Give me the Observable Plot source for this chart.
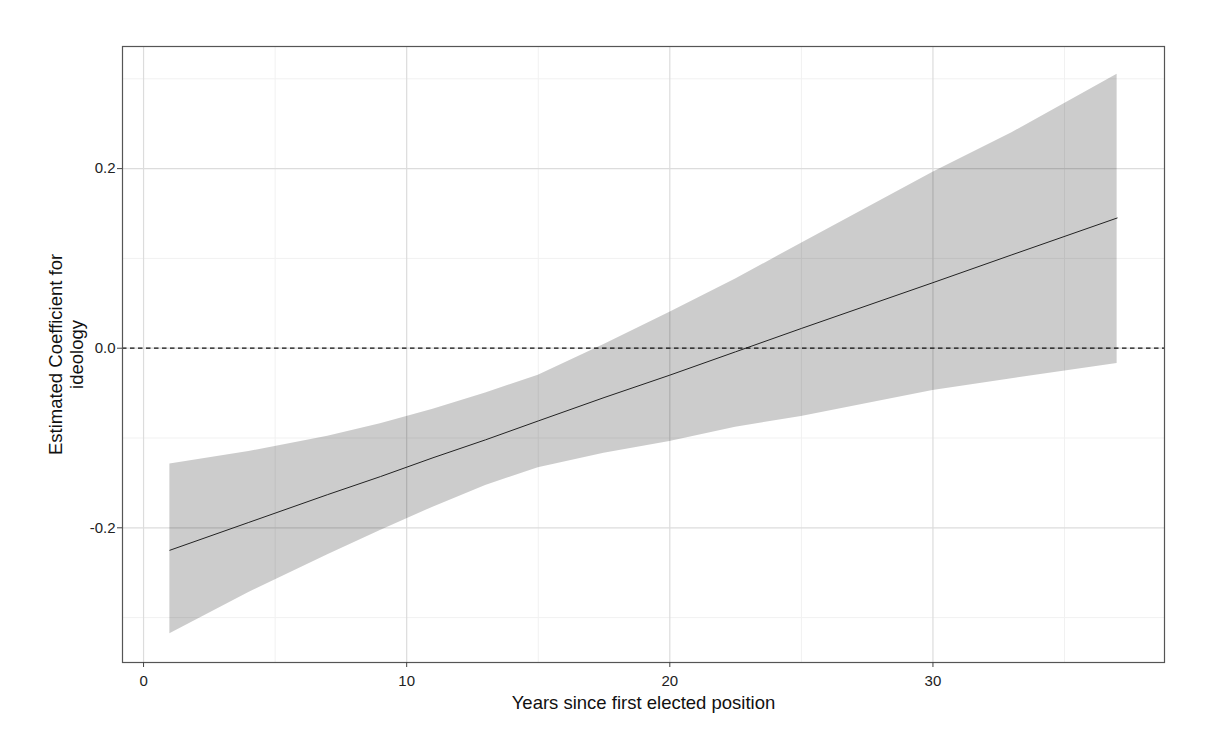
<!DOCTYPE html>
<html>
<head>
<meta charset="utf-8">
<script src="https://cdn.jsdelivr.net/npm/d3@7"></script>
<script src="https://cdn.jsdelivr.net/npm/@observablehq/plot@0.6"></script>
<style>
  html, body { margin: 0; padding: 0; background: #fff; }
  svg text.ticklab { font-size: 15px !important; }
</style>
</head>
<body>
<div id="chart"></div>
<script>
// Years since first elected position
const years = [1, 4, 7, 9, 11, 13, 15, 17.5, 20, 22.5, 25, 30, 33, 37];
// Estimated coefficient for ideology
const estimate = [-0.225, -0.194, -0.163, -0.143, -0.122, -0.102, -0.081, -0.055, -0.030, -0.004, 0.022, 0.073, 0.104, 0.145];
// Confidence band
const upper = [-0.129, -0.115, -0.098, -0.084, -0.068, -0.050, -0.030, 0.004, 0.040, 0.077, 0.117, 0.196, 0.240, 0.305];
const lower = [-0.318, -0.272, -0.230, -0.203, -0.177, -0.153, -0.133, -0.117, -0.104, -0.088, -0.076, -0.047, -0.034, -0.017];

const xTicks = [0, 10, 20, 30];
const xMinor = [5, 15, 25, 35];
const yTicks = [-0.2, 0.0, 0.2];
const yMinor = [-0.3, -0.1, 0.1, 0.3];

const xLabel = "Years since first elected position";
const yLabel = "Estimated Coefficient for\nideology";

const data = years.map((x, i) => ({x, est: estimate[i], lo: lower[i], hi: upper[i]}));

const chart = Plot.plot({
  width: 1214,
  height: 756,
  marginLeft: 122,
  marginRight: 50,
  marginTop: 46,
  marginBottom: 94,
  style: {fontFamily: "'Liberation Sans', Arial, sans-serif", fontSize: "15px", color: "#333", background: "#fff"},
  x: {domain: [-0.8, 38.8]},
  y: {domain: [-0.350, 0.336]},
  marks: [
    Plot.ruleX(xMinor, {stroke: "#f1f1f1", strokeWidth: 1}),
    Plot.ruleY(yMinor, {stroke: "#f1f1f1", strokeWidth: 1}),
    Plot.ruleX(xTicks, {stroke: "#dcdcdc", strokeWidth: 1.2}),
    Plot.ruleY(yTicks, {stroke: "#dcdcdc", strokeWidth: 1.2}),
    Plot.areaY(data, {x: "x", y1: "lo", y2: "hi", fill: "black", fillOpacity: 0.2}),
    Plot.line(data, {x: "x", y: "est", stroke: "#222", strokeWidth: 1}),
    Plot.ruleY([0], {stroke: "#111", strokeWidth: 1.3, strokeDasharray: "4.5,3.5"}),
    Plot.frame({stroke: "#555", strokeWidth: 1.2}),
    Plot.axisX(xTicks, {fontSize: 15, tickSize: 5, tickPadding: 8, label: null, tickFormat: d => String(d), fill: "#222", stroke: "#444"}),
    Plot.axisY(yTicks, {fontSize: 15, tickSize: 5, tickPadding: 2, label: null, tickFormat: d => d.toFixed(1), fill: "#222", stroke: "#444"}),
    Plot.text([xLabel], {frameAnchor: "bottom", dy: 41, lineAnchor: "middle", fontSize: 18.5, fill: "#111"}),
    Plot.text([yLabel], {frameAnchor: "left", dx: -57, rotate: -90, lineAnchor: "middle", textAnchor: "middle", fontSize: 18.5, lineHeight: 1.13, fill: "#111"})
  ]
});
// enlarge tick labels (numeric texts) to match the reference
d3.select(chart).selectAll("text")
  .filter(function () { return /^-?\d/.test(this.textContent.trim()); })
  .classed("ticklab", true)
  .attr("font-size", 15)
  .style("font-size", "15px");
document.getElementById("chart").appendChild(chart);
</script>
</body>
</html>
